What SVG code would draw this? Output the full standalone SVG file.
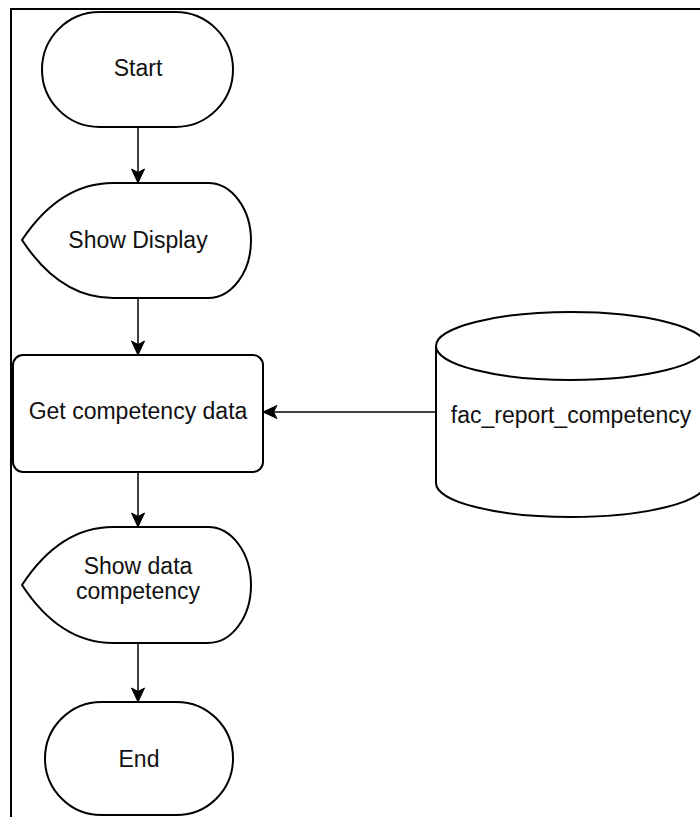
<svg xmlns="http://www.w3.org/2000/svg" width="700" height="817" viewBox="0 0 700 817">
  <style>
    .shape { fill: #ffffff; stroke: #000000; stroke-width: 2; }
    .label { font-family: "Liberation Sans", Arial, sans-serif; font-size: 23px; fill: #111111; text-anchor: middle; }
    .edge { fill: none; stroke: #000000; stroke-width: 1.5; }
  </style>
  <defs>
    <marker id="arrow" markerUnits="userSpaceOnUse" markerWidth="16" markerHeight="16" refX="15" refY="8" orient="auto">
      <path d="M1,1.5 L15,8 L1,14.5 L4.5,8 Z" fill="#000000" stroke="#000000" stroke-width="1"/>
    </marker>
  </defs>
  <rect x="0" y="0" width="700" height="817" fill="#ffffff"/>
  <g id="frame">
    <path d="M11,817 L11,9 L700,9" fill="none" stroke="#000000" stroke-width="2"/>
  </g>
  <g id="connectors">
    <line class="edge" x1="138" y1="127" x2="138" y2="183" marker-end="url(#arrow)"/>
    <line class="edge" x1="138" y1="298" x2="138" y2="355" marker-end="url(#arrow)"/>
    <line class="edge" x1="436" y1="412" x2="263" y2="412" marker-end="url(#arrow)"/>
    <line class="edge" x1="138" y1="472" x2="138" y2="527" marker-end="url(#arrow)"/>
    <line class="edge" x1="138" y1="643" x2="138" y2="702" marker-end="url(#arrow)"/>
  </g>
  <g id="start">
    <rect class="shape" x="42" y="12" width="191" height="115" rx="57.5" ry="57.5"/>
    <text class="label" x="138" y="76">Start</text>
  </g>
  <g id="show-display">
    <path class="shape" d="M22,240 Q60,183 113,183 L208,183 A43,57.5 0 0 1 208,298 L113,298 Q60,298 22,240 Z"/>
    <text class="label" x="138" y="248">Show Display</text>
  </g>
  <g id="get-competency">
    <rect class="shape" x="13" y="355" width="250" height="117" rx="10" ry="10"/>
    <text class="label" x="138" y="419">Get competency data</text>
  </g>
  <g id="db">
    <path class="shape" d="M436,346 A135,34 0 0 1 706,346 L706,483 A135,34 0 0 1 436,483 Z"/>
    <path class="shape" d="M436,346 A135,34 0 0 0 706,346" fill="none"/>
    <text class="label" x="571" y="423">fac_report_competency</text>
  </g>
  <g id="show-data">
    <path class="shape" d="M22,585 Q60,527 113,527 L208,527 A43,58 0 0 1 208,643 L113,643 Q60,643 22,585 Z"/>
    <text class="label" x="138" y="574">Show data</text>
    <text class="label" x="138" y="599">competency</text>
  </g>
  <g id="end">
    <rect class="shape" x="45" y="702" width="188" height="113" rx="56.5" ry="56.5"/>
    <text class="label" x="139" y="767">End</text>
  </g>
</svg>
